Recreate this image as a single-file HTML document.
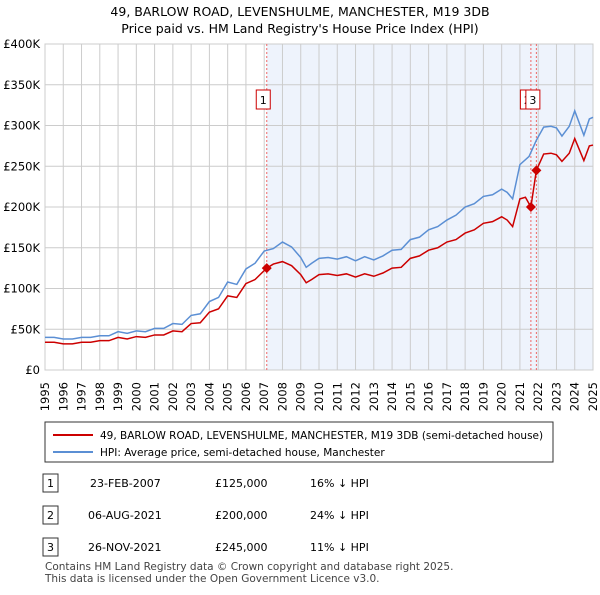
<!DOCTYPE html>
<html><head><meta charset="utf-8"><style>
body{margin:0;background:#fff;font-family:"Liberation Sans","DejaVu Sans",sans-serif;color:#222}
svg text{font-family:"DejaVu Sans","Liberation Sans",sans-serif}
</style></head><body>
<svg id="chart" width="600" height="590" xmlns="http://www.w3.org/2000/svg">
<text x="300" y="16" text-anchor="middle" font-size="12.5">49, BARLOW ROAD, LEVENSHULME, MANCHESTER, M19 3DB</text>
<text x="300" y="33" text-anchor="middle" font-size="12.5">Price paid vs. HM Land Registry's House Price Index (HPI)</text>
<g id="plot"></g>
<g>
<rect x="45" y="422" width="508" height="40" fill="#fff" stroke="#333"/>
<line x1="53" y1="435" x2="93" y2="435" stroke="#cc0000" stroke-width="2"/>
<text x="100" y="439" font-size="10.5">49, BARLOW ROAD, LEVENSHULME, MANCHESTER, M19 3DB (semi-detached house)</text>
<line x1="53" y1="452" x2="93" y2="452" stroke="#5b8fd4" stroke-width="2"/>
<text x="100" y="456" font-size="10.5">HPI: Average price, semi-detached house, Manchester</text>
</g>
<g font-size="11">
<rect x="43" y="474" width="15" height="18" fill="#fff" stroke="#333"/><text x="50.5" y="487" text-anchor="middle">1</text>
<text x="90" y="487">23-FEB-2007</text><text x="215" y="487">£125,000</text><text x="310" y="487">16% ↓ HPI</text>
<rect x="43" y="506" width="15" height="18" fill="#fff" stroke="#333"/><text x="50.5" y="519" text-anchor="middle">2</text>
<text x="88" y="519">06-AUG-2021</text><text x="215" y="519">£200,000</text><text x="310" y="519">24% ↓ HPI</text>
<rect x="43" y="538" width="15" height="18" fill="#fff" stroke="#333"/><text x="50.5" y="551" text-anchor="middle">3</text>
<text x="88" y="551">26-NOV-2021</text><text x="215" y="551">£245,000</text><text x="310" y="551">11% ↓ HPI</text>
</g>
<text x="45" y="570" font-size="10.5" fill="#444">Contains HM Land Registry data © Crown copyright and database right 2025.</text>
<text x="45" y="582" font-size="10.5" fill="#444">This data is licensed under the Open Government Licence v3.0.</text>
</svg>
<script>
const hpiYears=[1995,1995.5,1996,1996.5,1997,1997.5,1998,1998.5,1999,1999.5,2000,2000.5,2001,2001.5,2002,2002.5,2003,2003.5,2004,2004.5,2005,2005.5,2006,2006.5,2007,2007.5,2008,2008.5,2009,2009.3,2009.6,2010,2010.5,2011,2011.5,2012,2012.5,2013,2013.5,2014,2014.5,2015,2015.5,2016,2016.5,2017,2017.5,2018,2018.5,2019,2019.5,2020,2020.3,2020.6,2021,2021.5,2021.9,2022.3,2022.7,2023,2023.3,2023.7,2024,2024.5,2024.8,2025];
const hpiValues=[40,40,38,38,40,40,42,42,47,45,48,47,51,51,57,56,67,69,84,89,108,105,124,131,146,149,157,151,138,126,131,137,138,136,139,134,139,135,140,147,148,160,163,172,176,184,190,200,204,213,215,222,218,210,252,262,282,298,299,297,287,299,318,288,308,310];
const priceYears=[1995,1995.5,1996,1996.5,1997,1997.5,1998,1998.5,1999,1999.5,2000,2000.5,2001,2001.5,2002,2002.5,2003,2003.5,2004,2004.5,2005,2005.5,2006,2006.5,2007.14,2007.5,2008,2008.5,2009,2009.3,2009.6,2010,2010.5,2011,2011.5,2012,2012.5,2013,2013.5,2014,2014.5,2015,2015.5,2016,2016.5,2017,2017.5,2018,2018.5,2019,2019.5,2020,2020.3,2020.6,2021,2021.3,2021.6,2021.9,2022.3,2022.7,2023,2023.3,2023.7,2024,2024.5,2024.8,2025];
const priceValues=[34,34,32,32,34,34,36,36,40,38,41,40,43,43,48,47,57,58,71,75,91,89,106,111,125,130,133,128,117,107,111,117,118,116,118,114,118,115,119,125,126,137,140,147,150,157,160,168,172,180,182,188,184,176,210,212,200,245,265,266,264,256,266,284,257,275,276];
const saleYears=[2007.14,2021.6,2021.9];
const saleValues=[125,200,245];
const saleLabels=["1","2","3"];
const yTicks=[0,50,100,150,200,250,300,350,400];
const yTickLabels=["£0","£50K","£100K","£150K","£200K","£250K","£300K","£350K","£400K"];
const xTicks=[1995,1996,1997,1998,1999,2000,2001,2002,2003,2004,2005,2006,2007,2008,2009,2010,2011,2012,2013,2014,2015,2016,2017,2018,2019,2020,2021,2022,2023,2024,2025];

const X0=45,X1=593,Y0=370,Y1=44;
const xs=y=>X0+(y-1995)/30*(X1-X0);
const ys=v=>Y0-v/400*(Y0-Y1);
const NS="http://www.w3.org/2000/svg";
const g=document.getElementById('plot');
function mk(t,a){const e=document.createElementNS(NS,t);for(const k in a)e.setAttribute(k,a[k]);g.appendChild(e);return e;}

const shade=mk('rect',{x:xs(saleYears[0]),y:Y1,width:X1-xs(saleYears[0]),height:Y0-Y1,fill:'#eef3fc'});


yTicks.forEach((t,i)=>{
 const l=mk('line',{x1:X0,x2:X1,y1:ys(t),y2:ys(t),stroke:'#cccccc'});
 
 
 const tx=mk('text',{x:40,y:ys(t)+4,'text-anchor':'end','font-size':'11.5'});
 tx.textContent=yTickLabels[i];
 
 
});
xTicks.forEach(t=>{
 const l=mk('line',{x1:xs(t),x2:xs(t),y1:Y1,y2:Y0,stroke:'#cccccc'});
 
 
 const px=xs(t)+4,py=382;
 const tx=mk('text',{x:px,y:py,'text-anchor':'end','font-size':'11.5',transform:`rotate(-90 ${px} ${py})`});
 tx.textContent=t;
 
 
});
const border=mk('rect',{x:X0,y:Y1,width:X1-X0,height:Y0-Y1,fill:'none',stroke:'#cccccc'});


saleYears.forEach((s,i)=>{
 const l=mk('line',{x1:xs(s),x2:xs(s),y1:Y1,y2:Y0,stroke:'#e66','stroke-dasharray':'2,2'});
 
 
});
const hp=mk('polyline',{points:hpiYears.map((y,i)=>xs(y)+','+ys(hpiValues[i])).join(' '),fill:'none',stroke:'#5b8fd4','stroke-width':1.5});


const pp=mk('polyline',{points:priceYears.map((y,i)=>xs(y)+','+ys(priceValues[i])).join(' '),fill:'none',stroke:'#cc0000','stroke-width':1.5});


saleYears.forEach((s,i)=>{
 const cx=xs(s),cy=ys(saleValues[i]);
 const d=mk('polygon',{points:`${cx},${cy-5} ${cx+5},${cy} ${cx},${cy+5} ${cx-5},${cy}`,fill:'#cc0000'});
 
 
 const bx=cx-10.5;
 const r=mk('rect',{x:bx,y:90,width:14,height:19,fill:'#fff',stroke:'#cc0000'});
 
 
 const t=mk('text',{x:bx+7,y:104,'text-anchor':'middle','font-size':'11'});
 t.textContent=saleLabels[i];
 
 
});
</script>
</body></html>
